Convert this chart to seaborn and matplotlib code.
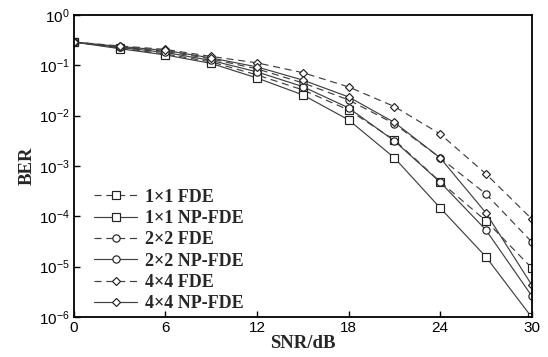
import numpy as np
import pandas as pd
import matplotlib
matplotlib.use("Agg")
import matplotlib.pyplot as plt
import seaborn as sns

snr = [0, 3, 6, 9, 12, 15, 18, 21, 24, 27, 30]
labels = ["1×1 FDE", "1×1 NP-FDE", "2×2 FDE", "2×2 NP-FDE", "4×4 FDE", "4×4 NP-FDE"]
ber_1x1_fde = [0.29, 0.221, 0.168, 0.117, 0.0645, 0.0325, 0.0130, 0.00331, 4.9e-4, 8.2e-5, 9.5e-6]
ber_1x1_np = [0.29, 0.214, 0.161, 0.109, 0.056, 0.0259, 0.00826, 0.00146, 1.48e-4, 1.58e-5, 1.0e-6]
ber_2x2_fde = [0.29, 0.232, 0.189, 0.134, 0.085, 0.0448, 0.0206, 0.0069, 0.00146, 2.8e-4, 3.13e-5]
ber_2x2_np = [0.29, 0.227, 0.180, 0.125, 0.074, 0.0378, 0.0143, 0.00316, 4.8e-4, 5.4e-5, 2.66e-6]
ber_4x4_fde = [0.29, 0.243, 0.207, 0.150, 0.112, 0.0716, 0.0373, 0.0152, 0.00435, 7.0e-4, 8.96e-5]
ber_4x4_np = [0.29, 0.237, 0.198, 0.140, 0.093, 0.051, 0.0236, 0.00736, 0.00146, 1.18e-4, 4.4e-6]

series = [ber_1x1_fde, ber_1x1_np, ber_2x2_fde, ber_2x2_np, ber_4x4_fde, ber_4x4_np]
markers = ["s", "s", "o", "o", "D", "D"]
styles = [(0, (6, 4)), "-", (0, (6, 4)), "-", (0, (6, 4)), "-"]

sns.set_style("ticks")
plt.rcParams["font.family"] = ["Liberation Sans", "DejaVu Sans"]
plt.rcParams["mathtext.default"] = "regular"

fig = plt.figure(figsize=(5.48, 3.57), dpi=100)
ax = fig.add_axes([0.135, 0.112, 0.835, 0.846])

for lab, vals, mk, ls in zip(labels, series, markers, styles):
    df = pd.DataFrame({"SNR": snr, "BER": vals})
    sns.lineplot(data=df, x="SNR", y="BER", ax=ax, label=lab, color="#404040",
                 linewidth=0.85, linestyle=ls, marker=mk,
                 markersize=5.2 if mk != "D" else 4.3,
                 markerfacecolor="white", markeredgecolor="#222222",
                 markeredgewidth=0.85)

ax.set_yscale("log")
ax.set_ylim(1e-6, 1)
ax.set_xlim(0, 30)
ax.set_xticks([0, 6, 12, 18, 24, 30])
ax.set_yticks([1e0, 1e-1, 1e-2, 1e-3, 1e-4, 1e-5, 1e-6])
ax.minorticks_off()
ax.tick_params(direction="in", length=4, width=1, labelsize=11, colors="black", pad=3)
for s in ax.spines.values():
    s.set_linewidth(1.3)
    s.set_color("black")
    s.set_visible(True)

ax.set_xlabel("SNR/dB", family=["Liberation Serif"], fontweight="bold", fontsize=13.5, labelpad=0)
ax.set_ylabel("BER", family=["Liberation Serif"], fontweight="bold", fontsize=13.5, labelpad=2)

leg = ax.legend(loc="lower left", bbox_to_anchor=(0.02, -0.02), frameon=False,
                prop={"family": "Liberation Serif", "weight": "bold", "size": 13},
                handlelength=2.4, labelspacing=0.24, handletextpad=0.45, borderaxespad=0.2)

fig.savefig("out.png", dpi=100)
